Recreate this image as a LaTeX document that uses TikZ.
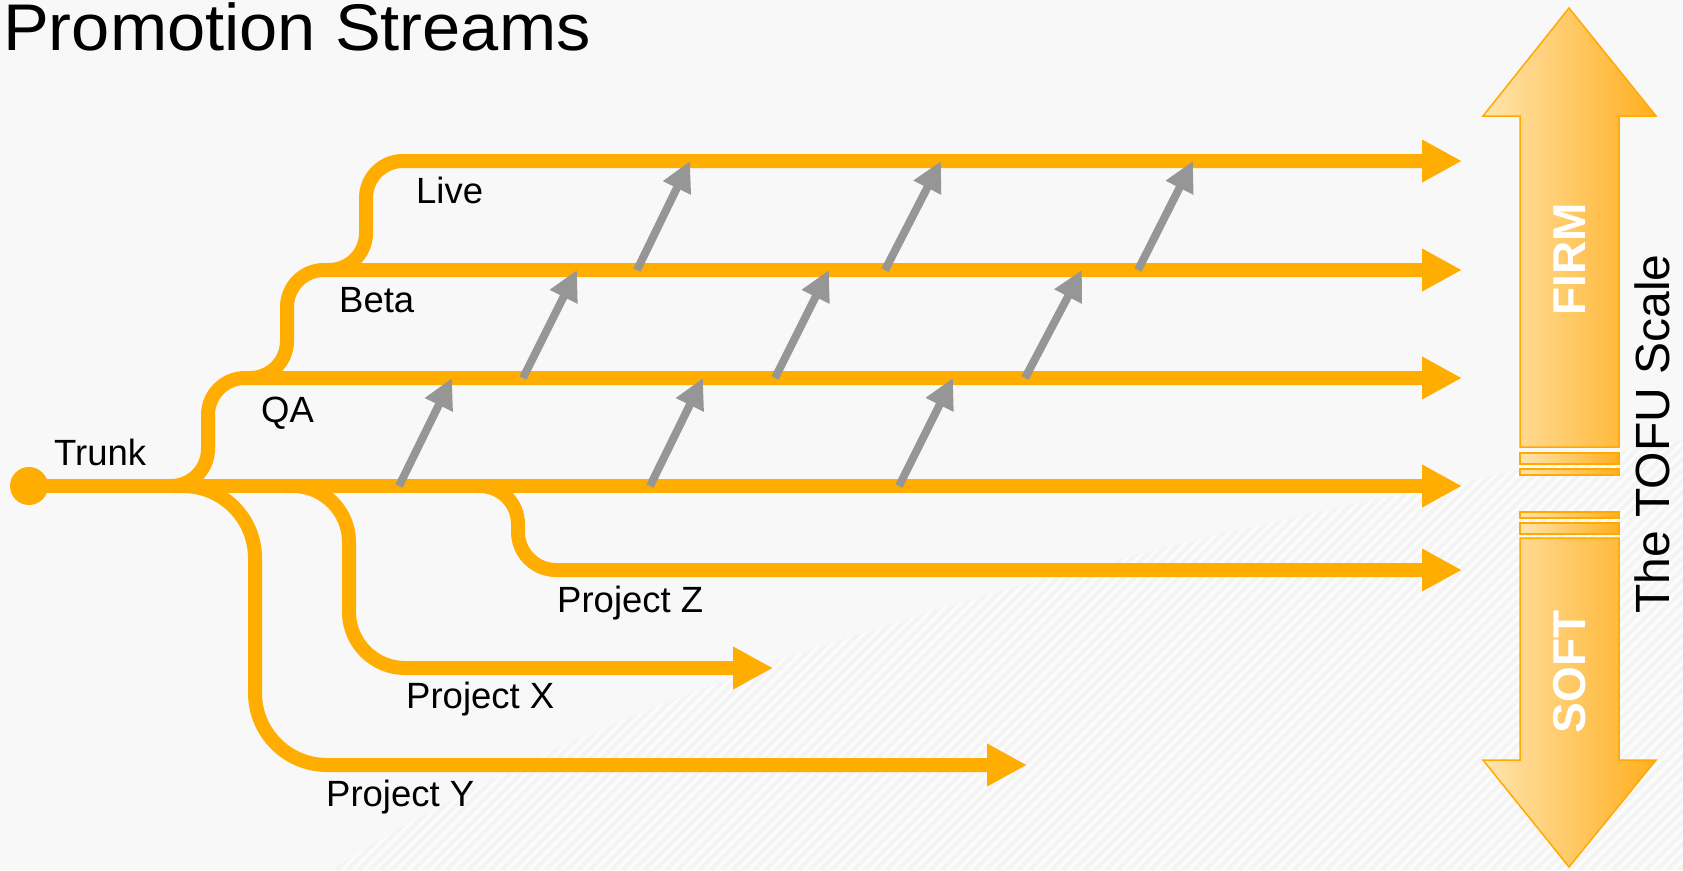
\documentclass[tikz,border=0pt]{standalone}
\usepackage{fontspec}
\setmainfont{Liberation Sans}
\usetikzlibrary{arrows.meta}
\definecolor{stream}{RGB}{255,173,0}
\definecolor{promo}{RGB}{150,150,150}
\definecolor{bg}{RGB}{248,248,248}
\definecolor{bgdark}{RGB}{244,244,244}
\definecolor{tofuL}{RGB}{255,228,175}
\definecolor{tofuR}{RGB}{255,175,30}
\definecolor{tofuEdge}{RGB}{255,170,0}
\begin{document}
\begin{tikzpicture}[x=1pt,y=-1pt,
  streamline/.style={draw=stream, line width=14pt, -{Triangle[length=40pt,width=40pt]}},
  promoarrow/.style={draw=promo, line width=8pt, -{Triangle[length=30pt,width=29pt]}},
  lbl/.style={font=\fontsize{36.5}{40}\selectfont, anchor=base west, inner sep=0pt},
  tofu/.style={draw=tofuEdge, line width=1.5pt, left color=tofuL, right color=tofuR},
  tofutext/.style={font=\fontsize{46}{50}\selectfont\bfseries, text=white, rotate=90, anchor=base, inner sep=0pt}]
\useasboundingbox (0,0) rectangle (1683,870);
\fill[bg] (0,0) rectangle (1683,870);

% faint hatched background band
\begin{scope}
  \clip (330,870) .. controls (600,700) and (1000,560) .. (1683,440) -- (1683,870) -- cycle;
  \fill[bgdark] (0,420) rectangle (1683,870);
  \foreach \i in {0,11,...,2200}
    \draw[white, line width=3pt, opacity=0.8] (\i-450,870) -- (\i,420);
\end{scope}

% title
\node[font=\fontsize{66}{70}\selectfont, xscale=1.04, anchor=base west, inner sep=0pt] (title) at (3,50) {Promotion Streams};

% streams
\node[circle, fill=stream, minimum size=38pt, inner sep=0pt] (trunkdot) at (29,486) {};
\coordinate (trunkend) at (1462,486);
\coordinate (qafork) at (172,486);   \coordinate (qaend) at (1462,378);
\coordinate (betafork) at (250,378); \coordinate (betaend) at (1462,270);
\coordinate (livefork) at (329,270); \coordinate (liveend) at (1462,161);
\coordinate (zfork) at (475,486);    \coordinate (zend) at (1462,570);
\coordinate (xfork) at (285,486);    \coordinate (xend) at (773,668);
\coordinate (yfork) at (172,486);    \coordinate (yend) at (1027,765);

\draw[streamline] (trunkdot.center) -- (trunkend);
\draw[streamline, rounded corners=72pt] (yfork) -- ++(83,0) |- (yend);
\draw[streamline, rounded corners=56pt] (xfork) -- ++(64,0) |- (xend);
\draw[streamline, rounded corners=38pt] (zfork) -- ++(43,0) |- (zend);
\draw[streamline, rounded corners=37pt] (qafork) -- ++(36,0) |- (qaend);
\draw[streamline, rounded corners=37pt] (betafork) -- ++(37,0) |- (betaend);
\draw[streamline, rounded corners=37pt] (livefork) -- ++(37,0) |- (liveend);

% labels
\node[lbl] (ltrunk) at (54,465) {Trunk};
\node[lbl] (lqa) at (261,422) {QA};
\node[lbl] (lbeta) at (339,312) {Beta};
\node[lbl] (llive) at (416,203) {Live};
\node[lbl] (lz) at (557,612) {Project Z};
\node[lbl] (lx) at (406,708) {Project X};
\node[lbl] (ly) at (326,806) {Project Y};

% promotion arrows
\coordinate (a1s) at (399,486);  \coordinate (a1e) at (452,378);
\coordinate (a2s) at (650,486);  \coordinate (a2e) at (703,378);
\coordinate (a3s) at (899,486);  \coordinate (a3e) at (953,378);
\coordinate (b1s) at (523,378);  \coordinate (b1e) at (577,270);
\coordinate (b2s) at (775,378);  \coordinate (b2e) at (829,270);
\coordinate (b3s) at (1025,378); \coordinate (b3e) at (1082,270);
\coordinate (c1s) at (637,270);  \coordinate (c1e) at (690,161);
\coordinate (c2s) at (885,270);  \coordinate (c2e) at (941,161);
\coordinate (c3s) at (1138,270); \coordinate (c3e) at (1193,161);
\foreach \p in {a1,a2,a3,b1,b2,b3,c1,c2,c3}
  \draw[promoarrow] (\p s) -- (\p e);

% TOFU scale
\path[tofu] (1569,8) -- (1656,116) -- (1619,116) -- (1619,447) -- (1520,447) -- (1520,116) -- (1483,116) -- cycle;
\path[tofu] (1520,453) rectangle (1619,464);
\path[tofu] (1520,469) rectangle (1619,475);
\path[tofu] (1520,512) rectangle (1619,518);
\path[tofu] (1520,523) rectangle (1619,534);
\path[tofu] (1520,538) -- (1619,538) -- (1619,760) -- (1656,760) -- (1569,867) -- (1483,760) -- (1520,760) -- cycle;
\node[tofutext] (firm) at (1585,259) {FIRM};
\node[tofutext] (soft) at (1585,672) {SOFT};
\node[font=\fontsize{48}{52}\selectfont, rotate=90, anchor=base, inner sep=0pt] (scale) at (1669,434) {The TOFU Scale};
\end{tikzpicture}
\end{document}
